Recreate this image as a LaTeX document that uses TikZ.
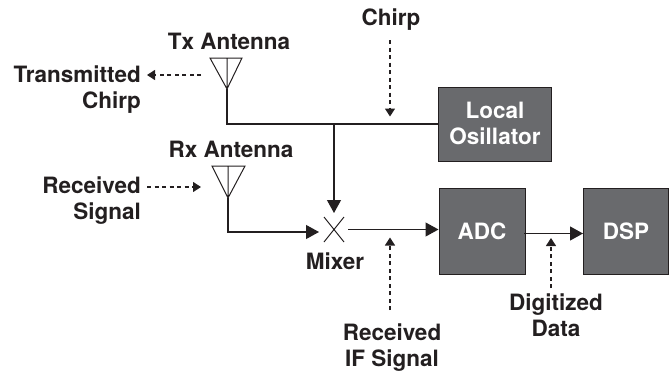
\documentclass[tikz,border=0pt]{standalone}
\usepackage{fontspec}
\setmainfont{TeX Gyre Heros}
\usetikzlibrary{arrows.meta}
\definecolor{ink}{HTML}{231F20}
\definecolor{boxgray}{HTML}{696A6D}
\tikzset{
  blockbox/.style={draw=ink,line width=1pt,fill=boxgray,text=white,font=\fontsize{22.5}{26}\selectfont\bfseries,align=center,inner sep=0pt,minimum width=#1},
  lab/.style={text=ink,font=\fontsize{22.5}{26}\selectfont\bfseries,inner sep=0pt},
  wire/.style={draw=ink,line width=1.2pt},
  sigarrow/.style={wire,-{Triangle[length=13pt,width=14pt]}},
  dasharrow/.style={draw=ink,line width=1.2pt,dash pattern=on 4pt off 3.5pt,-{Triangle[length=8pt,width=10pt]}},
  thin wire/.style={draw=ink,line width=1pt},
}
\begin{document}
\begin{tikzpicture}[x=1pt,y=-1pt]
\useasboundingbox (0,0) rectangle (670,370);
% blocks
\node[blockbox=113pt,minimum height=74pt,anchor=north west] (lo) at (438,87) {\raisebox{2pt}{Local}\\\raisebox{2pt}{Osillator}};
\node[blockbox=86pt,minimum height=86pt,anchor=north west] (adc) at (438.5,188) {ADC};
\node[blockbox=85pt,minimum height=86pt,anchor=north west] (dsp) at (583,188) {DSP};
% antennas
\coordinate (txtl) at (210,58); \coordinate (txtr) at (242,58); \coordinate (txa) at (227,89); \coordinate (txt) at (227,58);
\coordinate (rxtl) at (212,166); \coordinate (rxtr) at (245,166); \coordinate (rxa) at (228,198); \coordinate (rxt) at (228,166);
\draw[thin wire] (txa) -- (txtl) -- (txtr) -- cycle (txt) -- (txa);
\draw[thin wire] (rxa) -- (rxtl) -- (rxtr) -- cycle (rxt) -- (rxa);
% mixer
\coordinate (mxa) at (324,217); \coordinate (mxb) at (344,242); \coordinate (mxc) at (344,217); \coordinate (mxd) at (324,242);
\draw[thin wire] (mxa) -- (mxb) (mxc) -- (mxd);
% wires
\coordinate (junc) at (334,124);
\coordinate (mxtop) at (334,213);
\coordinate (mxleft) at (319,232);
\coordinate (mxout) at (348,229.5);
\coordinate (adcin) at (adc.west |- mxout);
\coordinate (adcout) at (524,233.5);
\coordinate (dspin) at (dsp.west |- adcout);
\draw[wire] (txa) |- (junc) -- (lo.west |- junc);
\draw[sigarrow] (junc) -- (mxtop);
\draw[sigarrow] (rxa) |- (mxleft);
\draw[sigarrow] (mxout) -- (adcin);
\draw[sigarrow] (adcout) -- (dspin);
% labels
\node[lab,anchor=center] (tl) at (229,41) {Tx Antenna};
\node[lab,anchor=center] (rl) at (231,149) {Rx Antenna};
\node[lab,anchor=center] (cl) at (391,20) {Chirp};
\node[lab,anchor=north east,align=right] (trl) at (141,66) {Transmitted\\Chirp};
\node[lab,anchor=north east,align=right] (rsl) at (141,177) {Received\\Signal};
\node[lab,anchor=center] (ml) at (335,261) {Mixer};
\node[lab,anchor=north,align=center] (ifl) at (392,323.5) {Received\\IF Signal};
\node[lab,anchor=north,align=center] (ddl) at (556,294) {Digitized\\Data};
% dashed callouts
\coordinate (c0) at (390,40); \coordinate (c1) at (390,116.5);
\coordinate (t0) at (201,75); \coordinate (t1) at (147,75);
\coordinate (r0) at (147,187); \coordinate (r1) at (201,187);
\coordinate (i0) at (390,310); \coordinate (i1) at (390,237.5);
\coordinate (d0) at (551,288); \coordinate (d1) at (551,238);
\draw[dasharrow] (c0) -- (c1);
\draw[dasharrow] (t0) -- (t1);
\draw[dasharrow] (r0) -- (r1);
\draw[dasharrow] (i0) -- (i1);
\draw[dasharrow] (d0) -- (d1);
\end{tikzpicture}
\end{document}
